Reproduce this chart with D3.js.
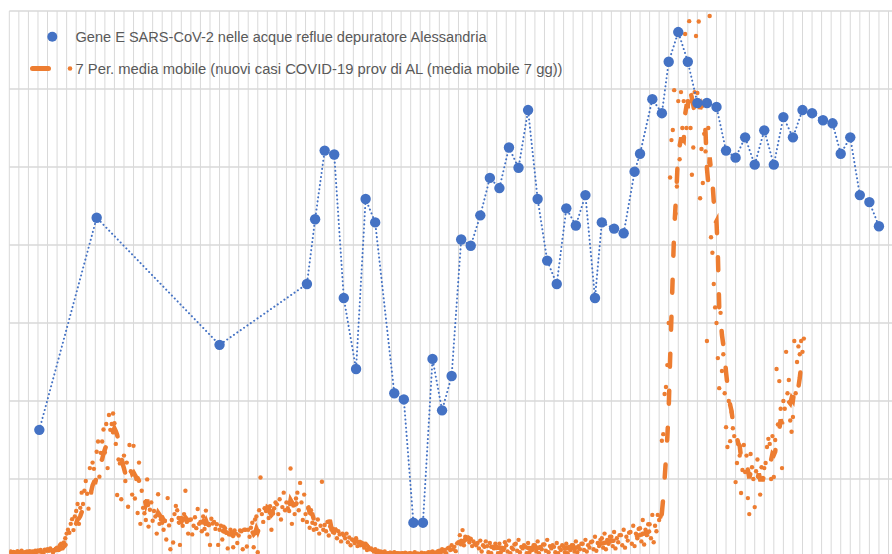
<!DOCTYPE html>
<html>
<head>
<meta charset="utf-8">
<script src="https://cdn.jsdelivr.net/npm/d3@7"></script>
<style>
  body { margin: 0; background: #fff; }
  svg { display: block; font-family: "Liberation Sans", Arial, sans-serif; }
</style>
</head>
<body>
<svg></svg>
<script>
const width = 892;
const height = 554;

// daily new cases, province of Alessandria, one value per day from casesStart
const casesStart = "2020-09-01";
const dailyCases = [
  10, 14, 9, 13, 12, 6, 15,
  11, 13, 16, 10, 8, 12, 14,
  12, 15, 11, 14, 9, 16, 13,
  17, 14, 18, 12, 10, 19, 16,
  20, 16, 22, 17, 12, 18, 21,
  24, 18, 30, 34, 22, 37, 48,
  60, 70, 62, 85, 97, 69, 104,
  118, 136, 85, 126, 165, 136, 170,
  195, 162, 124, 228, 165, 242, 226,
  195, 270, 296, 206, 267, 296, 327,
  268, 341, 228, 364, 326, 341, 368,
  343, 290, 159, 250, 240, 148, 242,
  260, 195, 242, 129, 287, 220, 160,
  285, 150, 200, 113, 242, 85, 170,
  126, 112, 95, 199, 78, 121, 140,
  93, 118, 104, 60, 161, 85, 96,
  88, 70, 92, 45, 151, 81, 20,
  95, 37, 110, 131, 120, 100, 31,
  100, 80, 110, 170, 90, 60, 95,
  96, 58, 80, 102, 74, 123, 85,
  90, 66, 104, 72, 119, 58, 82,
  31, 98, 86, 90, 72, 84, 31,
  70, 80, 45, 78, 74, 62, 22,
  58, 70, 62, 25, 68, 60, 36,
  55, 68, 66, 20, 70, 70, 27,
  70, 52, 75, 88, 25, 96, 104,
  12, 120, 204, 110, 90, 125, 118,
  120, 100, 130, 70, 118, 125, 140,
  135, 110, 148, 96, 128, 165, 120,
  140, 125, 118, 227, 85, 132, 110,
  150, 165, 120, 190, 140, 95, 160,
  110, 90, 125, 75, 120, 88, 70,
  85, 72, 96, 60, 80, 193, 70,
  82, 66, 90, 55, 78, 70, 64,
  62, 70, 48, 66, 58, 40, 60,
  55, 48, 60, 38, 50, 30, 45,
  42, 36, 48, 28, 38, 30, 34,
  30, 24, 34, 18, 26, 20, 22,
  18, 14, 20, 10, 16, 12, 14,
  12, 9, 14, 6, 10, 8, 11,
  9, 7, 12, 5, 10, 8, 9,
  8, 10, 6, 11, 9, 4, 10,
  10, 7, 9, 12, 6, 9, 8,
  7, 11, 8, 10, 5, 9, 12,
  10, 12, 14, 8, 11, 7, 15,
  16, 12, 20, 14, 18, 10, 22,
  24, 18, 30, 20, 26, 15, 35,
  38, 56, 42, 69, 30, 52, 45,
  50, 38, 46, 28, 40, 34, 30,
  36, 22, 42, 14, 30, 26, 40,
  28, 12, 36, 10, 26, 22, 34,
  26, 10, 34, 12, 22, 18, 38,
  30, 14, 42, 10, 24, 20, 32,
  34, 16, 44, 12, 26, 22, 30,
  26, 10, 36, 12, 22, 18, 30,
  30, 14, 40, 10, 26, 20, 32,
  32, 16, 44, 12, 28, 22, 30,
  26, 12, 36, 10, 24, 18, 30,
  28, 12, 34, 10, 26, 18, 30,
  30, 14, 40, 12, 28, 20, 34,
  34, 18, 44, 14, 30, 24, 38,
  40, 20, 52, 16, 36, 28, 44,
  48, 24, 60, 20, 44, 34, 52,
  52, 28, 64, 22, 48, 38, 56,
  56, 30, 70, 24, 52, 42, 62,
  64, 34, 80, 28, 60, 48, 72,
  74, 40, 95, 32, 70, 56, 84,
  84, 48, 108, 38, 80, 66, 108,
  95, 103, 298, 315, 418, 436, 492,
  600, 973, 1069, 1095, 1197, 880, 950,
  1169, 1020, 1192, 1100, 1169, 1341, 1100,
  1169, 1374, 1100, 980, 1050, 1192, 1336,
  1190, 1373, 920, 1046, 959, 1085, 1040,
  554, 1100, 1387, 820, 780, 700, 640,
  600, 510, 433, 626, 477, 520, 420,
  333, 282, 400, 297, 372, 330, 310,
  192, 241, 290, 260, 164, 223, 287,
  218, 260, 151, 110, 264, 230, 200,
  128, 220, 250, 205, 160, 230, 200,
  228, 241, 282, 303, 290, 200, 310,
  205, 300, 482, 340, 451, 380, 228,
  400, 380, 526, 420, 454, 350, 321,
  359, 554, 420, 500, 540, 520, 554,
  526, 560
];

// Gene E in wastewater, sampling dates and values
const geneDates = [
  "2020-09-23", "2020-11-04", "2021-02-02", "2021-04-07", "2021-04-13",
  "2021-04-20", "2021-04-27", "2021-05-04", "2021-05-13", "2021-05-20",
  "2021-05-27", "2021-06-10", "2021-06-17", "2021-06-24", "2021-07-01",
  "2021-07-08", "2021-07-15", "2021-07-22", "2021-07-29", "2021-08-05",
  "2021-08-12", "2021-08-19", "2021-08-26", "2021-09-02", "2021-09-09",
  "2021-09-16", "2021-09-23", "2021-09-30", "2021-10-07", "2021-10-14",
  "2021-10-21", "2021-10-28", "2021-11-04", "2021-11-09", "2021-11-18",
  "2021-11-25", "2021-12-03", "2021-12-07", "2021-12-16", "2021-12-23",
  "2021-12-28", "2022-01-04", "2022-01-11", "2022-01-18", "2022-01-25",
  "2022-02-01", "2022-02-08", "2022-02-15", "2022-02-22", "2022-03-01",
  "2022-03-08", "2022-03-15", "2022-03-22", "2022-03-29", "2022-04-05",
  "2022-04-12", "2022-04-20", "2022-04-27", "2022-05-03", "2022-05-10",
  "2022-05-17", "2022-05-24", "2022-05-31"
];
const geneValues = [
  1.63, 4.35, 2.72, 3.50, 4.33,
  5.21, 5.16, 3.32, 2.41, 4.59,
  4.29, 2.10, 2.02, 0.44, 0.44,
  2.54, 1.88, 2.32, 4.07, 3.99,
  4.38, 4.86, 4.73, 5.25, 4.99,
  5.73, 4.59, 3.80, 3.50, 4.47,
  4.25, 4.64, 3.32, 4.29, 4.21,
  4.15, 4.94, 5.17, 5.87, 5.69,
  6.35, 6.73, 6.35, 5.82, 5.82,
  5.77, 5.21, 5.12, 5.38, 5.03,
  5.47, 5.03, 5.64, 5.38, 5.73,
  5.69, 5.60, 5.56, 5.17, 5.38,
  4.64, 4.55, 4.24
];

const caseTicks = [0, 200, 400, 600, 800, 1000, 1200, 1400];
const geneDomain = [0, 7];
const legendLabels = [
  "Gene E SARS-CoV-2 nelle acque reflue depuratore Alessandria",
  "7 Per. media mobile (nuovi casi COVID-19 prov di AL (media mobile 7 gg))"
];

const blue = "#4472C4";
const orange = "#ED7D31";
const grid = "#D9D9D9";

const parse = d3.timeParse("%Y-%m-%d");
const start = parse(casesStart);
const axisEnd = parse("2022-06-10");

const plot = { left: 9.3, top: 11, right: 892.6, bottom: 557 };

const x = d3.scaleTime().domain([start, axisEnd]).range([plot.left, plot.right]);
const yCases = d3.scaleLinear().domain([0, 1400]).range([plot.bottom, plot.top]);
const yGene = d3.scaleLinear().domain(geneDomain).range([plot.bottom, plot.top]);

const cases = dailyCases.map((v, i) => ({ date: d3.timeDay.offset(start, i), value: v }));
// Excel style trailing 7 period moving average
const movingAvg = cases.slice(6).map((d, i) => ({
  date: d.date,
  value: d3.mean(dailyCases.slice(i, i + 7))
}));
const gene = geneDates.map((d, i) => ({ date: parse(d), value: geneValues[i] }));

const svg = d3.select("svg")
  .attr("width", width)
  .attr("height", height);

svg.append("defs").append("clipPath")
  .attr("id", "plotClip")
  .append("rect")
  .attr("x", plot.left)
  .attr("y", plot.top - 1)
  .attr("width", plot.right - plot.left + 20)
  .attr("height", plot.bottom - plot.top + 1);

// weekly vertical gridlines
const weeks = d3.range(0, d3.timeDay.count(start, axisEnd) + 1, 7).map(d => d3.timeDay.offset(start, d));
svg.append("g")
  .selectAll("line")
  .data(weeks)
  .enter()
  .append("line")
  .attr("x1", d => x(d))
  .attr("x2", d => x(d))
  .attr("y1", plot.top)
  .attr("y2", plot.bottom)
  .attr("stroke", grid)
  .attr("stroke-width", 1);

svg.append("g")
  .selectAll("line")
  .data(caseTicks)
  .enter()
  .append("line")
  .attr("x1", plot.left)
  .attr("x2", width + 5)
  .attr("y1", d => yCases(d))
  .attr("y2", d => yCases(d))
  .attr("stroke", grid)
  .attr("stroke-width", 1.3);

const data = svg.append("g").attr("clip-path", "url(#plotClip)");

data.append("g")
  .selectAll("circle")
  .data(cases)
  .enter()
  .append("circle")
  .attr("cx", d => x(d.date))
  .attr("cy", d => yCases(d.value))
  .attr("r", 2.2)
  .attr("fill", orange);

data.append("path")
  .datum(movingAvg)
  .attr("fill", "none")
  .attr("stroke", orange)
  .attr("stroke-width", 4.5)
  .attr("stroke-linecap", "round")
  .attr("stroke-dasharray", "13,24")
  .attr("d", d3.line().x(d => x(d.date)).y(d => yCases(d.value)));

data.append("path")
  .datum(gene)
  .attr("fill", "none")
  .attr("stroke", blue)
  .attr("stroke-width", 2)
  .attr("stroke-linecap", "round")
  .attr("stroke-dasharray", "0.1,4")
  .attr("d", d3.line().x(d => x(d.date)).y(d => yGene(d.value)));

data.append("g")
  .selectAll("circle")
  .data(gene)
  .enter()
  .append("circle")
  .attr("cx", d => x(d.date))
  .attr("cy", d => yGene(d.value))
  .attr("r", 5.2)
  .attr("fill", blue);

// legend
const legend = svg.append("g");
legend.append("circle")
  .attr("cx", 52.3)
  .attr("cy", 36.7)
  .attr("r", 5)
  .attr("fill", blue);
legend.append("line")
  .attr("x1", 32.5).attr("x2", 48.5)
  .attr("y1", 68.5).attr("y2", 68.5)
  .attr("stroke", orange)
  .attr("stroke-width", 5)
  .attr("stroke-linecap", "round");
legend.append("circle")
  .attr("cx", 70)
  .attr("cy", 68.5)
  .attr("r", 2.3)
  .attr("fill", orange);

legend.selectAll("text")
  .data(legendLabels)
  .enter()
  .append("text")
  .attr("x", 75.5)
  .attr("y", (d, i) => i === 0 ? 42 : 74)
  .attr("font-size", "14px")
  .attr("fill", "#595959")
  .attr("textLength", (d, i) => i === 0 ? 411 : 487)
  .attr("lengthAdjust", "spacingAndGlyphs")
  .text(d => d);
</script>
</body>
</html>
